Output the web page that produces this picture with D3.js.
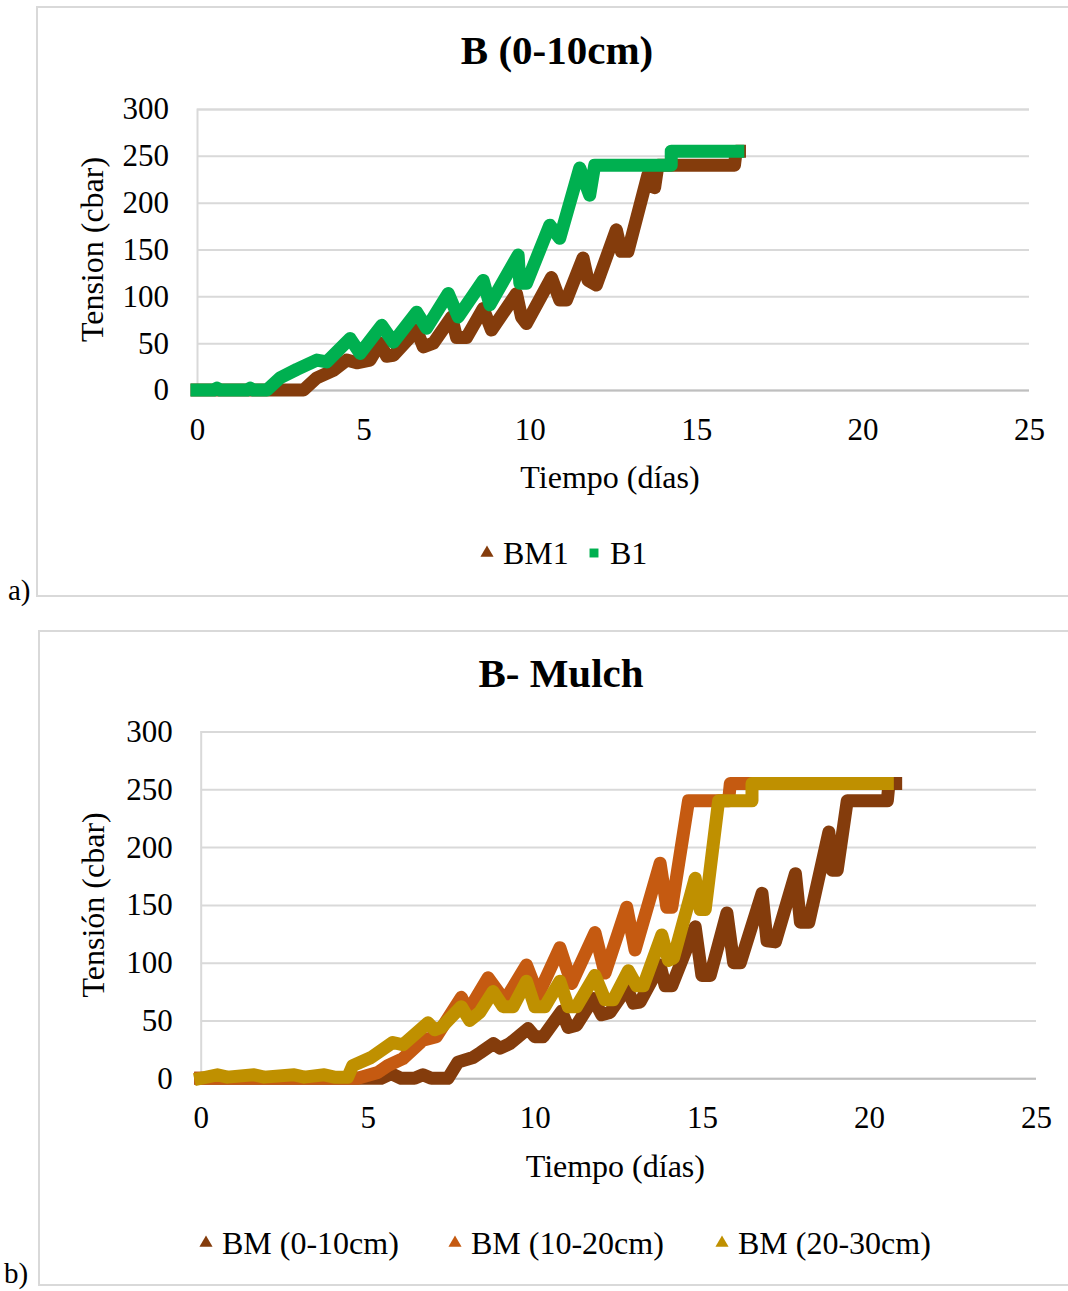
<!DOCTYPE html>
<html>
<head>
<meta charset="utf-8">
<script src="https://cdn.jsdelivr.net/npm/d3@7"></script>
<style>
  body { margin: 0; background: #fff; }
  text { font-family: "Liberation Serif", serif; fill: #000; }
</style>
</head>
<body>
<svg id="fig" width="1068" height="1291"></svg>
<script>
// ---- data ----
const yTicks = [0, 50, 100, 150, 200, 250, 300];
const xTicks = [0, 5, 10, 15, 20, 25];

// chart a) B (0-10cm)
const bm1 = [
  [0,0],[3.2,0],[3.6,13],[4.1,21],[4.5,32],[4.8,29],[5.2,32],[5.5,50],[5.7,36],[5.9,37],
  [6.6,64],[6.8,46],[7.1,50],[7.65,78],[7.8,56],[8.1,56],[8.6,87],[8.85,64],[9.6,103],
  [9.75,78],[9.9,71],[10.65,120],[10.9,96],[11.1,96],[11.6,141],[11.75,117],[12.0,112],
  [12.6,171],[12.75,148],[12.95,148],[13.55,230],[13.75,216],[13.85,240],[16.15,240],
  [16.2,255],[16.3,255]
];
const b1 = [
  [0,0],[0.5,0],[0.6,2],[0.7,0],[1.5,0],[1.6,2],[1.7,0],[2.1,0],[2.5,13],[3.0,22],
  [3.6,32],[3.9,30],[4.6,55],[4.9,39],[5.55,69],[5.9,51],[6.6,83],[6.9,66],[7.55,103],
  [7.85,78],[8.6,117],[8.8,91],[9.65,144],[9.7,114],[9.9,114],[10.6,176],[10.9,162],
  [11.5,237],[11.8,208],[11.95,240],[14.25,240],[14.25,255],[16.25,255]
];

// chart b) B- Mulch
const bm010 = [
  [0,0],[5.4,0],[5.7,4],[6.0,0],[6.4,0],[6.65,3],[6.9,0],[7.4,0],[7.7,14],[8.15,18],
  [8.36,22],[8.76,30],[8.96,26],[9.25,30],[9.8,43],[10.0,36],[10.25,36],[10.8,58],
  [11.0,44],[11.25,46],[11.75,69],[12.0,55],[12.25,57],[12.75,78],[12.95,65],[13.15,66],
  [13.75,98],[13.9,80],[14.1,80],[14.8,131],[15.0,89],[15.25,89],[15.75,143],[15.95,100],
  [16.15,100],[16.8,160],[16.95,119],[17.2,118],[17.8,177],[17.95,135],[18.2,135],
  [18.8,213],[18.9,180],[19.05,180],[19.35,240],[20.55,240],[20.6,255],[20.8,255]
];
const bm1020 = [
  [0,0],[4.7,0],[5.3,5],[5.6,11],[6.05,17],[6.65,33],[7.05,36],[7.8,70],[8.0,58],
  [8.6,87],[9.1,67],[9.75,98],[10.1,72],[10.75,113],[11.1,82],[11.8,126],[12.1,91],
  [12.75,148],[13.0,111],[13.75,186],[13.95,148],[14.1,148],[14.6,240],[15.8,240],
  [15.85,255],[20.5,255]
];
const bm2030 = [
  [0,0],[0.5,3],[0.8,1],[1.6,3],[1.9,1],[2.8,3],[3.1,1],[3.7,3],[4.0,1],[4.4,1],
  [4.55,11],[5.1,18],[5.75,31],[6.05,29],[6.8,48],[7.0,42],[7.2,44],[7.8,62],[8.05,50],
  [8.35,57],[8.75,75],[9.05,62],[9.35,62],[9.75,84],[10.0,62],[10.3,62],[10.75,84],
  [11.0,62],[11.25,62],[11.8,89],[12.1,68],[12.35,68],[12.8,93],[13.05,80],[13.25,80],
  [13.8,124],[14.0,102],[14.15,104],[14.8,173],[14.95,146],[15.1,146],[15.5,240],
  [16.5,240],[16.5,255],[20.55,255]
];

const svg = d3.select("#fig");
svg.append("rect").attr("width", 1068).attr("height", 1291).attr("fill", "#fff");

function drawChart(c) {
  const g = svg.append("g");

  // outer frame
  g.append("rect")
    .attr("x", c.frame[0]).attr("y", c.frame[1])
    .attr("width", c.frame[2]).attr("height", c.frame[3])
    .attr("fill", "none").attr("stroke", "#d9d9d9").attr("stroke-width", 2);

  g.append("text").attr("x", c.tag[0]).attr("y", c.tag[1])
    .style("font-size", "29px").text(c.tagText);

  const x = d3.scaleLinear().domain([0, 25]).range([c.left, c.right]);
  const y = d3.scaleLinear().domain([0, 300]).range([c.bottom, c.top]);

  // gridlines + y labels
  const yAxis = g.append("g")
    .attr("transform", `translate(${c.left},0)`)
    .call(d3.axisLeft(y).tickValues(yTicks).tickSize(-(c.right - c.left)).tickPadding(28));
  yAxis.select(".domain").attr("stroke", "#d9d9d9").attr("stroke-width", 2);
  yAxis.selectAll(".tick line").attr("stroke", d => d === 0 ? "#bfbfbf" : "#d9d9d9").attr("stroke-width", 2);
  yAxis.selectAll(".tick text").style("font-size", "31px").attr("fill", "#000");

  const xAxis = g.append("g")
    .attr("transform", `translate(0,${c.bottom})`)
    .call(d3.axisBottom(x).tickValues(xTicks).tickSize(0).tickPadding(28));
  xAxis.select(".domain").remove();
  xAxis.selectAll(".tick text").style("font-size", "31px").attr("fill", "#000");

  // title
  g.append("text").attr("x", c.titleX).attr("y", c.titleY)
    .attr("text-anchor", "middle").style("font-size", "41px").style("font-weight", "bold")
    .text(c.title);

  // axis titles
  g.append("text").attr("x", (c.left + c.right) / 2 - 3).attr("y", c.xTitleY)
    .attr("text-anchor", "middle").attr("dominant-baseline", "central")
    .style("font-size", "32px").text("Tiempo (días)");
  g.append("text")
    .attr("transform", `translate(${c.yTitleX},${(c.top + c.bottom) / 2}) rotate(-90)`)
    .attr("text-anchor", "middle").attr("dominant-baseline", "central")
    .style("font-size", "32px").text(c.yTitle);

  // series
  const line = d3.line().x(d => x(d[0])).y(d => y(d[1]));
  c.series.forEach(s => {
    g.append("path")
      .datum(s.data)
      .attr("d", line)
      .attr("fill", "none")
      .attr("stroke", s.color)
      .attr("stroke-width", 13)
      .attr("stroke-linejoin", "round")
      .attr("stroke-linecap", "square");
  });

  // legend
  const leg = g.append("g");
  c.series.forEach((s, i) => {
    const lx = c.legendX[i];
    leg.append("path")
      .attr("transform", `translate(${lx},${c.legendY})`)
      .attr("d", d3.symbol().type(s.symbol).size(s.symbol === d3.symbolSquare ? 80 : 75)())
      .attr("fill", s.color);
    leg.append("text").attr("x", lx + 16).attr("y", c.legendY)
      .attr("dominant-baseline", "central")
      .style("font-size", "32px").text(s.name);
  });
}

drawChart({
  frame: [37, 7, 1100, 589],
  tag: [8, 600], tagText: "a)",
  left: 197, right: 1029, top: 109, bottom: 390,
  title: "B (0-10cm)", titleX: 557, titleY: 64,
  xTitleY: 477, yTitleX: 92, yTitle: "Tension (cbar)",
  legendX: [487, 594], legendY: 553,
  series: [
    { name: "BM1", data: bm1, color: "#843c0c", symbol: d3.symbolTriangle },
    { name: "B1", data: b1, color: "#00b050", symbol: d3.symbolSquare }
  ]
});

drawChart({
  frame: [39, 631, 1100, 654],
  tag: [4, 1283], tagText: "b)",
  left: 200.7, right: 1036, top: 731.5, bottom: 1078.3,
  title: "B- Mulch", titleX: 561, titleY: 687,
  xTitleY: 1166, yTitleX: 93, yTitle: "Tensión (cbar)",
  legendX: [206, 455, 722], legendY: 1243,
  series: [
    { name: "BM (0-10cm)", data: bm010, color: "#843c0c", symbol: d3.symbolTriangle },
    { name: "BM (10-20cm)", data: bm1020, color: "#c55a11", symbol: d3.symbolTriangle },
    { name: "BM (20-30cm)", data: bm2030, color: "#bf9000", symbol: d3.symbolTriangle }
  ]
});
</script>
</body>
</html>
